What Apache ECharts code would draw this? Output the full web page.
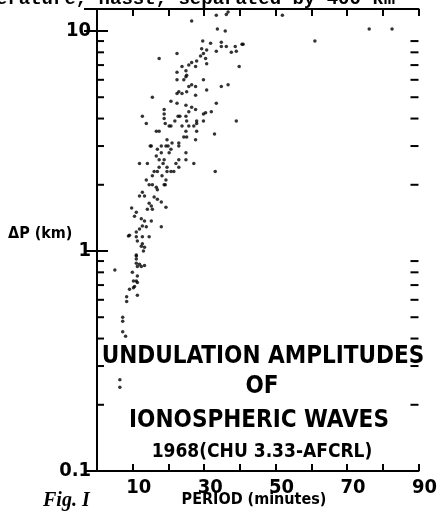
<!DOCTYPE html>
<html lang="en">
<head>
<meta charset="utf-8">
<title>Undulation amplitudes</title>
<script src="https://cdn.jsdelivr.net/npm/echarts@6/dist/echarts.min.js"></script>
<style>
  html, body { margin: 0; padding: 0; background: #fff; }
  #chart { width: 440px; height: 522px; }
</style>
</head>
<body>
<div id="chart"></div>
<script>
// period (minutes) and amplitude dP (km)
var period = [
  33.4,36.2,36.7,26.5,33.7,35.9,29.6,31.8,34.8,36.2,
  38.7,39.0,40.9,34.8,33.4,37.6,22.4,17.4,29.3,30.7,
  29.8,29.0,30.4,27.9,26.5,30.7,27.6,25.7,23.8,24.9,
  22.4,39.8,24.9,25.1,24.3,22.4,26.5,29.8,27.6,30.7,
  25.7,25.1,22.9,22.4,23.8,27.6,34.8,36.7,15.5,20.7,
  18.8,18.8,18.8,19.1,22.4,24.9,26.5,25.7,27.6,29.8,
  30.4,22.7,23.2,21.8,24.9,25.1,33.4,32.0,29.8,27.9,
  27.1,25.7,23.8,20.2,20.7,17.4,16.6,12.7,13.8,24.9,
  25.1,24.3,22.9,22.9,21.0,19.6,19.3,20.7,20.2,19.9,
  18.0,16.9,15.2,14.9,27.9,27.6,27.9,32.9,39.0,18.0,
  17.4,16.6,18.8,18.5,19.6,22.1,22.9,22.9,24.9,24.9,
  27.1,17.4,16.9,16.0,14.1,11.9,15.5,18.2,19.6,20.7,
  21.5,19.3,19.1,18.8,33.1,13.8,14.6,15.5,16.6,16.9,
  12.7,11.9,13.3,16.0,16.9,18.0,14.6,15.2,14.1,15.5,
  19.3,9.7,11.0,10.5,12.4,13.3,15.2,12.7,13.8,18.0,
  11.9,11.0,9.1,11.0,12.7,14.6,11.3,12.4,13.3,11.0,
  12.7,13.0,11.0,11.0,11.0,11.9,13.3,11.3,12.4,5.0,
  9.9,11.3,10.2,11.0,11.3,10.5,10.2,9.1,11.3,8.3,
  8.3,7.2,7.2,7.2,8.0,6.4,6.4,76.2,82.6,61.0,
  40.6,51.9,8.8
];
var deltaP = [
  11.8,11.9,12.2,11.1,10.2,10.0,9.0,8.8,8.9,8.5,
  8.5,8.1,8.7,8.5,8.1,8.0,7.9,7.5,8.3,8.2,
  7.9,7.7,7.5,7.3,7.2,7.1,6.9,7.0,6.9,6.6,
  6.5,6.9,6.2,6.3,6.0,6.0,5.7,6.0,5.6,5.4,
  5.6,5.3,5.3,5.2,5.2,5.1,5.6,5.7,5.0,4.8,
  4.4,4.2,4.0,3.8,4.7,4.6,4.5,4.3,4.4,4.2,
  4.25,4.1,4.1,3.9,4.1,3.9,4.7,4.3,3.9,3.9,
  3.7,3.7,3.7,3.7,3.7,3.5,3.5,4.1,3.8,3.5,
  3.3,3.3,3.1,3.0,3.1,3.2,3.0,2.9,2.8,3.0,
  3.0,2.9,3.0,3.0,3.5,3.2,3.8,3.4,3.9,2.8,
  2.6,2.7,2.6,2.5,2.4,2.5,2.6,2.4,2.8,2.6,
  2.5,2.4,2.3,2.3,2.5,2.5,2.2,2.2,2.3,2.3,
  2.3,2.1,2.0,2.0,2.3,2.1,2.0,2.0,1.95,1.9,
  1.85,1.78,1.78,1.76,1.72,1.67,1.65,1.6,1.55,1.55,
  1.58,1.57,1.5,1.44,1.4,1.37,1.37,1.3,1.29,1.29,
  1.26,1.22,1.18,1.16,1.16,1.16,1.11,1.05,1.04,0.95,
  1.08,1.0,0.96,0.92,0.88,0.87,0.86,0.85,0.85,0.82,
  0.80,0.77,0.73,0.73,0.72,0.69,0.68,0.67,0.63,0.62,
  0.59,0.50,0.48,0.43,0.41,0.26,0.24,10.2,10.2,9.0,
  8.7,11.8,1.17
];

var xLabels = [10, 30, 50, 70, 90];
var yLabels = [0.1, 1, 10];
var minorTicks = [0.2, 0.3, 0.4, 0.5, 0.6, 0.7, 0.8, 0.9, 2, 3, 4, 5, 6, 7, 8, 9];

var titleLines = ['UNDULATION AMPLITUDES', 'OF', 'IONOSPHERIC WAVES'];
var subTitle = '1968(CHU 3.33-AFCRL)';

var FONT = '"Liberation Sans Narrow", "DejaVu Sans Condensed", sans-serif';

var points = [];
for (var i = 0; i < period.length; i++) {
  points.push([period[i], deltaP[i]]);
}

function labelIn(list, v) {
  for (var k = 0; k < list.length; k++) {
    if (Math.abs(list[k] - v) < 1e-6 * Math.max(1, list[k])) return true;
  }
  return false;
}

var axisLineStyle = { color: '#000', width: 2 };

var chart = echarts.init(document.getElementById('chart'), null, { renderer: 'canvas' });

var option = {
  backgroundColor: '#fff',
  animation: false,
  grid: { left: 97, right: 17, top: 9, bottom: 51 },
  xAxis: [
    {
      type: 'value', min: 0, max: 90, interval: 10, position: 'bottom',
      axisLine: { lineStyle: axisLineStyle },
      axisTick: { inside: true, length: 7, lineStyle: axisLineStyle },
      splitLine: { show: false },
      axisLabel: {
        color: '#000', fontFamily: FONT, fontWeight: 'bold', fontSize: 20, margin: 7,
        padding: [0, 0, 0, 12],
        formatter: function (v) { return labelIn(xLabels, v) ? String(v) : ''; }
      }
    },
    {
      type: 'value', min: 0, max: 90, interval: 10, position: 'top',
      axisLine: { lineStyle: axisLineStyle },
      axisTick: { inside: true, length: 7, lineStyle: axisLineStyle },
      splitLine: { show: false },
      axisLabel: { show: false }
    }
  ],
  yAxis: [
    {
      type: 'log', logBase: 10, min: 0.1, max: 12.59, position: 'left',
      axisLine: { lineStyle: axisLineStyle },
      axisTick: { inside: true, length: 11, lineStyle: axisLineStyle },
      splitLine: { show: false },
      axisLabel: {
        color: '#000', fontFamily: FONT, fontWeight: 'bold', fontSize: 20, margin: 6,
        formatter: function (v) { return labelIn(yLabels, v) ? String(v) : ''; }
      }
    },
    {
      type: 'log', logBase: 10, min: 0.1, max: 12.59, position: 'right',
      axisLine: { lineStyle: axisLineStyle },
      axisTick: { inside: true, length: 13, lineStyle: axisLineStyle },
      splitLine: { show: false },
      axisLabel: { show: false }
    }
  ],
  series: [
    {
      type: 'scatter',
      data: points,
      symbol: 'circle',
      symbolSize: 3.5,
      itemStyle: { color: '#000' }
    },
    {
      // minor log ticks on the left and right frame
      type: 'custom',
      data: minorTicks.map(function (v) { return [0, v]; }),
      clip: false,
      silent: true,
      renderItem: function (params, api) {
        var v = api.value(1);
        var l = api.coord([0, v]);
        var r = api.coord([90, v]);
        return {
          type: 'group',
          children: [
            { type: 'line', shape: { x1: l[0], y1: l[1], x2: l[0] + 7, y2: l[1] }, style: { stroke: '#000', lineWidth: 2 } },
            { type: 'line', shape: { x1: r[0], y1: r[1], x2: r[0] - 8, y2: r[1] }, style: { stroke: '#000', lineWidth: 2 } }
          ]
        };
      }
    }
  ],
  graphic: [
    {
      type: 'text', left: -4, top: -10,
      style: { text: 'erature, hasst, separated by 400 km', font: 'bold 19px "Liberation Mono", monospace', fill: '#000' }
    },
    {
      type: 'text', x: 263, y: 357,
      style: { text: titleLines[0], font: 'bold 24px ' + FONT, fill: '#000', align: 'center', verticalAlign: 'middle', textAlign: 'center', textVerticalAlign: 'middle' }
    },
    {
      type: 'text', x: 262, y: 387,
      style: { text: titleLines[1], font: 'bold 24px ' + FONT, fill: '#000', align: 'center', verticalAlign: 'middle', textAlign: 'center', textVerticalAlign: 'middle' }
    },
    {
      type: 'text', x: 259, y: 421,
      style: { text: titleLines[2], font: 'bold 24px ' + FONT, fill: '#000', align: 'center', verticalAlign: 'middle', textAlign: 'center', textVerticalAlign: 'middle' }
    },
    {
      type: 'text', x: 262, y: 452,
      style: { text: subTitle, font: 'bold 19px ' + FONT, fill: '#000', align: 'center', verticalAlign: 'middle', textAlign: 'center', textVerticalAlign: 'middle' }
    },
    {
      type: 'text', x: 8, y: 234,
      style: { text: 'ΔP (km)', font: 'bold 16px ' + FONT, fill: '#000', align: 'left', verticalAlign: 'middle', textAlign: 'left', textVerticalAlign: 'middle' }
    },
    {
      type: 'text', x: 254, y: 500,
      style: { text: 'PERIOD (minutes)', font: 'bold 16px ' + FONT, fill: '#000', align: 'center', verticalAlign: 'middle', textAlign: 'center', textVerticalAlign: 'middle' }
    },
    {
      type: 'text', x: 43, y: 501,
      style: { text: 'Fig. I', font: 'italic bold 20px "Liberation Serif", serif', fill: '#000', align: 'left', verticalAlign: 'middle', textAlign: 'left', textVerticalAlign: 'middle' }
    }
  ]
};

chart.setOption(option);
</script>
</body>
</html>
